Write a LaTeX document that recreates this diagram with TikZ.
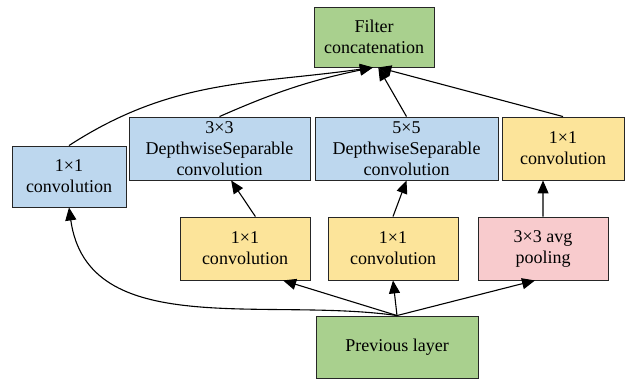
\documentclass[tikz,border=0pt]{standalone}
\usepackage{fontspec}
\setmainfont{Liberation Serif}
\usetikzlibrary{arrows.meta}
\usetikzlibrary{shapes}
\definecolor{boxgreen}{RGB}{169,208,142}
\definecolor{boxblue}{RGB}{189,215,238}
\definecolor{boxyellow}{RGB}{252,228,154}
\definecolor{boxpink}{RGB}{248,203,205}

\begin{document}
\begin{tikzpicture}[x = 1pt, y = 1pt]
	\tikzstyle{EdgeStyle} = [line width = 1.1pt, -{Triangle[length = 13pt, width = 11pt]}]
	\tikzstyle{boxStyle} = [shape = rectangle, draw = black!85, line width = 0.9pt, align = center, inner sep = 0pt, font = \fontsize{18}{21}\selectfont]
	\tikzstyle{greenStyle} = [boxStyle, fill = boxgreen]
	\tikzstyle{blueStyle} = [boxStyle, fill = boxblue]
	\tikzstyle{yellowStyle} = [boxStyle, fill = boxyellow]
	\tikzstyle{pinkStyle} = [boxStyle, fill = boxpink]
	\useasboundingbox (0,0) rectangle (628,380);
	\node[greenStyle, minimum width = 120pt, minimum height = 60pt] (fc) at (374, 343) {Filter\\concatenation};
	\node[blueStyle, minimum width = 114pt, minimum height = 61pt] (cl) at (69, 203.5) {1×1\\convolution};
	\node[blueStyle, minimum width = 181pt, minimum height = 63pt] (dw3) at (219.5, 231.5) {3×3\\DepthwiseSeparable\\convolution};
	\node[blueStyle, minimum width = 183pt, minimum height = 63pt] (dw5) at (406.5, 231.5) {5×5\\DepthwiseSeparable\\convolution};
	\node[yellowStyle, minimum width = 122pt, minimum height = 63pt] (ct) at (563, 231.5) {1×1\\convolution};
	\node[yellowStyle, minimum width = 130pt, minimum height = 63pt] (ca) at (245, 131.5) {1×1\\convolution};
	\node[yellowStyle, minimum width = 130pt, minimum height = 63pt] (cb) at (393, 131.5) {1×1\\convolution};
	\node[pinkStyle, minimum width = 130pt, minimum height = 63pt] (pool) at (543, 131.5) {3×3 avg\\pooling};
	\node[greenStyle, minimum width = 162pt, minimum height = 62pt] (prev) at (397, 33) {Previous layer};
	\draw[EdgeStyle] (prev.north) to[out = 172, in = -82] (cl.south);
	\draw[EdgeStyle] (prev.north) to (ca.-40);
	\draw[EdgeStyle] (prev.north) to (cb.south);
	\draw[EdgeStyle] (prev.north) to (pool.-104);
	\draw[EdgeStyle] (ca.72) to (dw3.-70);
	\draw[EdgeStyle] (cb.north) to (dw5.south);
	\draw[EdgeStyle] (pool.north) to (ct.-122);
	\draw[EdgeStyle] (cl.north) to[out = 33, in = 188] (fc.-92);
	\draw[EdgeStyle] (dw3.north) to[bend left = 6] (fc.-92);
	\draw[EdgeStyle] (dw5.north) to (fc.-82);
	\draw[EdgeStyle] (ct.north) to (fc.-82);
\end{tikzpicture}
\end{document}
